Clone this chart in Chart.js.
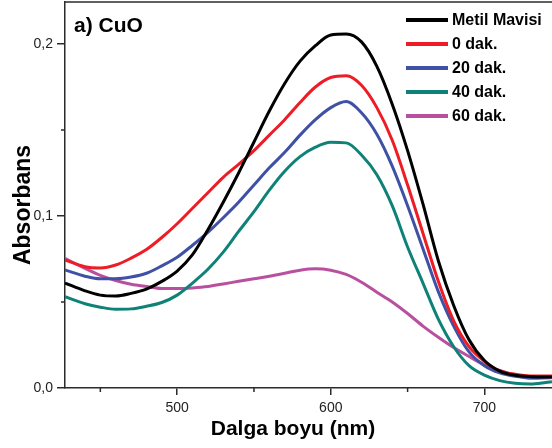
<!DOCTYPE html>
<html>
<head>
<meta charset="utf-8">
<script src="https://cdn.jsdelivr.net/npm/chart.js@4.4.0/dist/chart.umd.min.js"></script>
<style>
  html, body { margin: 0; padding: 0; background: #fff; }
  #wrap { width: 552px; height: 448px; }
</style>
</head>
<body>
<div id="wrap"><canvas id="chart"></canvas></div>
<script>
// values (nm / absorbance)
const wavelength = [427, 440, 450, 460, 470, 480, 490, 500, 510, 520, 530, 540, 550, 560, 570, 580, 590,
  600, 610, 620, 630, 640, 650, 660, 670, 680, 690, 700, 710, 720, 730, 740, 744];
const metilMavisi = [0.061, 0.0565, 0.054, 0.0535, 0.055, 0.0575, 0.062, 0.068, 0.0775, 0.092, 0.108, 0.125,
  0.143, 0.161, 0.177, 0.190, 0.199, 0.2052, 0.2058, 0.2012, 0.187, 0.165, 0.138, 0.107, 0.074, 0.048, 0.028,
  0.016, 0.0098, 0.0074, 0.0066, 0.0064, 0.0064];
const dak0 = [0.0744, 0.0705, 0.0698, 0.0715, 0.0755, 0.0805, 0.0875, 0.0955, 0.1045, 0.1135, 0.1225, 0.1300,
  0.138, 0.147, 0.156, 0.166, 0.175, 0.1805, 0.1815, 0.176, 0.163, 0.144, 0.118, 0.090, 0.062, 0.039, 0.024,
  0.0155, 0.010, 0.008, 0.007, 0.007, 0.007];
const dak20 = [0.0686, 0.065, 0.0635, 0.0635, 0.0645, 0.0667, 0.071, 0.076, 0.083, 0.0905, 0.099, 0.108, 0.118,
  0.128, 0.137, 0.147, 0.156, 0.163, 0.1665, 0.160, 0.1475, 0.129, 0.106, 0.081, 0.056, 0.036, 0.021, 0.013,
  0.0088, 0.0068, 0.006, 0.0063, 0.0066];
const dak40 = [0.0531, 0.049, 0.047, 0.0458, 0.046, 0.0475, 0.0497, 0.054, 0.061, 0.069, 0.079, 0.091, 0.1025,
  0.115, 0.126, 0.1345, 0.140, 0.1428, 0.1425, 0.1355, 0.124, 0.106, 0.082, 0.061, 0.040, 0.024, 0.013, 0.0075,
  0.0043, 0.0027, 0.0023, 0.0032, 0.0037];
const dak60 = [0.0754, 0.0695, 0.0655, 0.0625, 0.0603, 0.059, 0.0579, 0.0578, 0.0582, 0.059, 0.0605, 0.062,
  0.0635, 0.065, 0.0667, 0.0685, 0.0693, 0.0685, 0.066, 0.0615, 0.0557, 0.050, 0.0433, 0.036, 0.0295, 0.0235,
  0.0183, 0.0135, 0.0102, 0.0074, 0.0056, 0.0058, 0.006];

const seriesLabels = ["Metil Mavisi", "0 dak.", "20 dak.", "40 dak.", "60 dak."];
const seriesValues = [metilMavisi, dak0, dak20, dak40, dak60];
const seriesColors = ["#000000", "#ee1c25", "#3f51a5", "#0f8278", "#b9509f"];

const xMajorTicks = [500, 600, 700];
const xMinorTicks = [450, 550, 650];
const yMajorTicks = [0, 0.1, 0.2];
const yMinorTicks = [0.05, 0.15];

const FONT = '"Liberation Sans", Arial, sans-serif';
const AXIS = "#2b2b2b";

const extras = {
  id: "extras",
  afterDraw(chart) {
    const ctx = chart.ctx;
    const area = chart.chartArea;
    const xs = chart.scales.x, ys = chart.scales.y;
    ctx.save();
    ctx.strokeStyle = AXIS;
    ctx.lineWidth = 1.5;
    // top frame line
    ctx.beginPath();
    ctx.moveTo(area.left, area.top);
    ctx.lineTo(area.right, area.top);
    ctx.stroke();
    // minor ticks
    ctx.beginPath();
    xMinorTicks.forEach(v => {
      const px = xs.getPixelForValue(v);
      ctx.moveTo(px, area.bottom);
      ctx.lineTo(px, area.bottom + 4);
    });
    yMinorTicks.forEach(v => {
      const py = ys.getPixelForValue(v);
      ctx.moveTo(area.left, py);
      ctx.lineTo(area.left - 4, py);
    });
    ctx.stroke();

    // axis titles
    ctx.fillStyle = "#000";
    ctx.font = "bold 21px " + FONT;
    ctx.textAlign = "center";
    ctx.textBaseline = "alphabetic";
    ctx.fillText("Dalga boyu (nm)", area.left + 228, area.bottom + 47);
    ctx.save();
    ctx.translate(area.left - 35, area.top + 203);
    ctx.rotate(-Math.PI / 2);
    ctx.font = "bold 23px " + FONT;
    ctx.fillText("Absorbans", 0, 0);
    ctx.restore();

    // panel label
    ctx.textAlign = "left";
    ctx.font = "bold 21px " + FONT;
    ctx.fillText("a) CuO", area.left + 9, area.top + 30);

    // legend
    const lx = area.right - 146, ly = area.top + 18;
    ctx.font = "bold 16px " + FONT;
    ctx.textBaseline = "middle";
    chart.data.datasets.forEach((ds, i) => {
      const y = ly + i * 24;
      ctx.strokeStyle = ds.borderColor;
      ctx.lineWidth = 4;
      ctx.beginPath();
      ctx.moveTo(lx, y);
      ctx.lineTo(lx + 42, y);
      ctx.stroke();
      ctx.fillStyle = "#000";
      ctx.fillText(ds.label, lx + 46, y + 1);
    });
    ctx.restore();
  }
};

new Chart(document.getElementById("chart"), {
  type: "line",
  data: {
    datasets: seriesLabels.map((label, i) => ({
      label: label,
      data: wavelength.map((w, j) => ({ x: w, y: seriesValues[i][j] })),
      borderColor: seriesColors[i],
      backgroundColor: seriesColors[i],
      borderWidth: 3,
      pointRadius: 0,
      tension: 0.4,
      cubicInterpolationMode: "monotone",
      fill: false
    }))
  },
  options: {
    responsive: true,
    maintainAspectRatio: false,
    animation: false,
    devicePixelRatio: 1,
    layout: { padding: { top: 2, right: 0, left: 0, bottom: 0 } },
    plugins: {
      legend: { display: false },
      tooltip: { enabled: false }
    },
    scales: {
      x: {
        type: "linear",
        min: 427,
        max: 744,
        afterBuildTicks: s => { s.ticks = xMajorTicks.map(v => ({ value: v })); },
        afterFit: s => { s.height = 60; s.paddingLeft = 0; s.paddingRight = 0; },
        grid: { drawOnChartArea: false, drawTicks: true, tickLength: 7, color: AXIS, lineWidth: 1.5 },
        border: { display: true, color: AXIS, width: 1.5 },
        ticks: { font: { family: FONT, size: 14 }, color: "#222", padding: 5, maxRotation: 0 }
      },
      y: {
        min: 0,
        max: 0.2244,
        afterBuildTicks: s => { s.ticks = yMajorTicks.map(v => ({ value: v })); },
        afterFit: s => { s.width = 65; s.paddingTop = 0; s.paddingBottom = 0; },
        grid: { drawOnChartArea: false, drawTicks: true, tickLength: 8, color: AXIS, lineWidth: 1.5 },
        border: { display: true, color: AXIS, width: 1.5 },
        ticks: {
          font: { family: FONT, size: 14 },
          color: "#222",
          padding: 4,
          callback: v => v.toFixed(1).replace(".", ",")
        }
      }
    }
  },
  plugins: [extras]
});
</script>
</body>
</html>
